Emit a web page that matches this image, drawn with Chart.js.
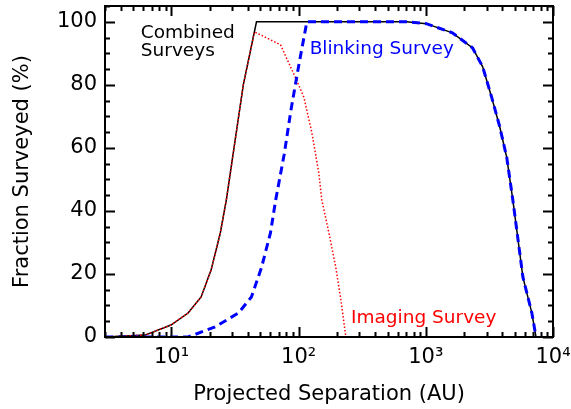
<!DOCTYPE html>
<html>
<head>
<meta charset="utf-8">
<script src="https://cdn.jsdelivr.net/npm/chart.js@4.4.1/dist/chart.umd.min.js"></script>
<style>
  html, body { margin: 0; padding: 0; background: #fff; }
</style>
</head>
<body>
<canvas id="chart" width="571" height="409"></canvas>
<script>
// Separation (AU) and fraction surveyed (%)
var combinedSep = [3, 6.2, 9.9, 13.5, 17.1, 20.5, 24.2, 27, 36.7, 46.6, 116, 702, 1009, 1618, 2333, 2800, 3296, 3811, 4327, 4831, 5799, 6820, 7350];
var combinedPct = [0, 0.6, 3.8, 7.6, 12.7, 21.3, 33, 43.5, 80, 100, 100, 100, 99.4, 96.5, 91.7, 85.7, 76, 66.7, 57, 43.5, 19, 7.6, 0];

var imagingSep = [3, 6.2, 9.9, 13.5, 17.1, 20.5, 24.2, 27, 36.7, 44.9, 72, 96, 110, 127, 144, 152, 173, 196, 215, 235, 7350];
var imagingPct = [0, 0.6, 3.8, 7.6, 12.7, 21.3, 33, 43.5, 80, 96.8, 92.7, 81.6, 76, 64.8, 52, 43.5, 33, 22, 11.7, 0, 0];

var blinkingSep = [3, 13.5, 22, 33.6, 42.5, 51, 60, 66, 77, 87, 100, 116, 702, 1009, 1618, 2333, 2800, 3296, 3811, 4327, 4831, 5799, 6820, 7350];
var blinkingPct = [0, 0, 3.2, 7.6, 12.7, 22, 33, 43.5, 58, 72, 86, 100, 100, 99.4, 96.5, 91.7, 85.7, 76, 66.7, 57, 43.5, 19, 7.6, 0];

var xTickValues = [10, 100, 1000, 10000];
var yTickValues = [0, 20, 40, 60, 80, 100];

var labels = [
  { lines: ["Combined", "Surveys"], x: 5.74, y: 95, color: "#000000" },
  { lines: ["Blinking Survey"], x: 122, y: 89.8, color: "#0000ff" },
  { lines: ["Imaging Survey"], x: 258, y: 4.4, color: "#ff0000" }
];

function points(xs, ys) {
  return xs.map(function (v, i) { return { x: v, y: ys[i] }; });
}

var sup = { 1: "\u00b9", 2: "\u00b2", 3: "\u00b3", 4: "\u2074" };

function noEdgePadding(scale) {
  scale.paddingTop = 0;
  scale.paddingBottom = 0;
  scale.paddingLeft = 0;
  scale.paddingRight = 0;
}

// IDL style box: frame on all four sides, ticks pointing inward
var frameTicks = {
  id: "frameTicks",
  afterDraw: function (chart) {
    var ctx = chart.ctx, a = chart.chartArea;
    var xs = chart.scales.x, ys = chart.scales.y;
    ctx.save();
    ctx.strokeStyle = "#000";
    ctx.lineWidth = 2;
    ctx.beginPath();
    for (var v = 0; v <= ys.max; v += 5) {
      var py = Math.round(ys.getPixelForValue(v)) + 0.5;
      var len = v % 20 === 0 ? 10 : 5;
      ctx.moveTo(a.left, py); ctx.lineTo(a.left + len, py);
      ctx.moveTo(a.right, py); ctx.lineTo(a.right - len, py);
    }
    for (var d = 1; d <= 10000; d *= 10) {
      for (var m = 1; m <= 9; m++) {
        var val = m * d;
        if (val < xs.min || val > xs.max) continue;
        var px = Math.round(xs.getPixelForValue(val)) + 0.5;
        var l = m === 1 ? 10 : 5;
        ctx.moveTo(px, a.bottom); ctx.lineTo(px, a.bottom - l);
        ctx.moveTo(px, a.top); ctx.lineTo(px, a.top + l);
      }
    }
    ctx.stroke();
    ctx.strokeRect(a.left, a.top, a.right - a.left, a.bottom - a.top);

    ctx.font = "18.5px 'DejaVu Sans'";
    ctx.textBaseline = "alphabetic";
    ctx.textAlign = "left";
    labels.forEach(function (lb) {
      ctx.fillStyle = lb.color;
      var lx = xs.getPixelForValue(lb.x);
      var ly = ys.getPixelForValue(lb.y);
      lb.lines.forEach(function (t, i) {
        ctx.fillText(t, lx, ly + i * 18);
      });
    });
    ctx.restore();
  }
};

new Chart(document.getElementById("chart"), {
  type: "scatter",
  data: {
    datasets: [
      {
        label: "Blinking Survey",
        data: points(blinkingSep, blinkingPct),
        showLine: true,
        borderColor: "#0000ff",
        borderWidth: 3,
        borderDash: [8, 5],
        pointRadius: 0,
        order: 0
      },
      {
        label: "Imaging Survey",
        data: points(imagingSep, imagingPct),
        showLine: true,
        borderColor: "#ff0000",
        borderWidth: 1.5,
        borderDash: [1.5, 2],
        pointRadius: 0,
        order: 1
      },
      {
        label: "Combined Surveys",
        data: points(combinedSep, combinedPct),
        showLine: true,
        borderColor: "#000000",
        borderWidth: 1.5,
        pointRadius: 0,
        order: 2
      }
    ]
  },
  options: {
    responsive: false,
    animation: false,
    layout: { padding: { top: 6, right: 18, left: 0, bottom: 0 } },
    plugins: {
      legend: { display: false },
      tooltip: { enabled: false }
    },
    scales: {
      x: {
        type: "logarithmic",
        min: 3,
        max: 10000,
        afterBuildTicks: function (scale) {
          scale.ticks = xTickValues.map(function (v) { return { value: v }; });
        },
        afterFit: function (scale) { scale.height = 72; noEdgePadding(scale); },
        ticks: {
          autoSkip: false,
          maxRotation: 0,
          padding: 8,
          color: "#000",
          font: { family: "DejaVu Sans", size: 21 },
          callback: function (v) {
            return "10" + sup[Math.round(Math.log10(v))];
          }
        },
        grid: { drawOnChartArea: false, drawTicks: false },
        border: { display: false },
        title: {
          display: true,
          text: "Projected Separation (AU)",
          color: "#000",
          font: { family: "DejaVu Sans", size: 21 },
          padding: { top: 2, bottom: 2 }
        }
      },
      y: {
        min: 0,
        max: 105,
        afterBuildTicks: function (scale) {
          scale.ticks = yTickValues.map(function (v) { return { value: v }; });
        },
        afterFit: function (scale) { scale.width = 105; noEdgePadding(scale); },
        ticks: {
          padding: 8,
          color: "#000",
          font: { family: "DejaVu Sans", size: 21 }
        },
        grid: { drawOnChartArea: false, drawTicks: false },
        border: { display: false },
        title: {
          display: true,
          text: "Fraction Surveyed (%)",
          color: "#000",
          font: { family: "DejaVu Sans", size: 21 },
          padding: { top: 10, bottom: 10 }
        }
      }
    }
  },
  plugins: [frameTicks]
});
</script>
</body>
</html>
